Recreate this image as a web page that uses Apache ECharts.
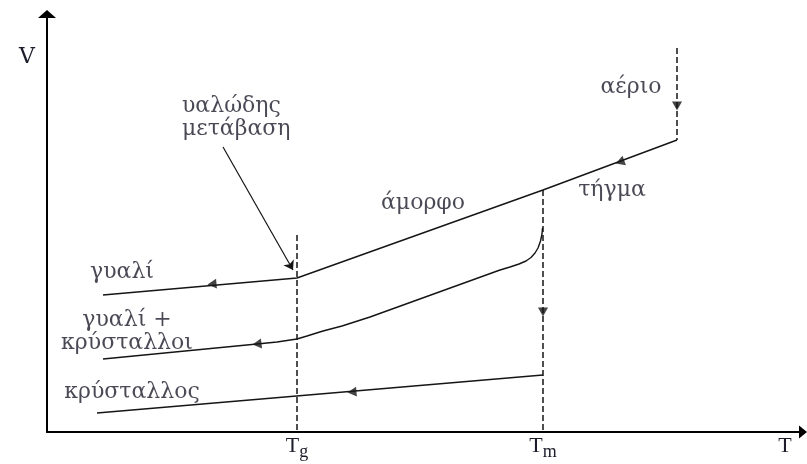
<!DOCTYPE html>
<html><head><meta charset="utf-8">
<script src="https://cdn.jsdelivr.net/npm/echarts@6/dist/echarts.min.js"></script>
<style>html,body{margin:0;padding:0;background:#fff}#c{width:807px;height:464px}</style>
</head><body><div id="c"></div>
<script>
// Volume–temperature diagram (arbitrary units): cooling paths from gas to glass / crystal
const gasPath = [[63, 38.4], [63, 29.2]];
const meltGlassPath = [[63, 29.2], [49.6, 24.2], [25, 15.4], [5.6, 13.7]];
const glassCrystalPath = [[49.55, 20.4], [49.5, 19.8], [49.35, 19.1], [49.1, 18.4], [48.8, 17.9], [48.4, 17.45],
  [47.9, 17.1], [47.2, 16.8], [46.3, 16.5], [45.3, 16.2], [32.3, 11.5], [29.5, 10.6], [27.6, 10.1], [26, 9.6],
  [25, 9.3], [23, 9.0], [21, 8.8], [5.6, 7.3]];
const crystalPath = [[49.6, 5.7], [5.0, 1.9]];
const tgLine = [[25, 19.7], [25, 0]];
const tmLine = [[49.6, 24.2], [49.6, 0]];
// direction markers: [T, V, rotation in degrees]
const arrowMarks = [[63, 32.6, 180], [57.3, 27.0, 110], [16.5, 14.8, 95], [21, 8.8, 97], [49.6, 12, 180], [30.5, 4.0, 95]];
const pointerLine = [[17.6, 28.5], [24.6, 16.2]];

const xTickValues = [25, 49.6, 73.8];
const xTickLabels = ['{t|T}{s|g}', '{t|T}{s|m}', '{t|T}'];
const yTickValues = [37.5];
const yTickLabels = ['V'];

const noteTexts = ['υαλώδης\nμετάβαση', 'γυαλί', 'γυαλί +\nκρύσταλλοι', 'κρύσταλλος', 'αέριο', 'τήγμα', 'άμορφο'];
const noteAnchors = [[13.5, 31.45], [7.5, 16.0], [8.0, 10.0], [8.5, 4.0], [58.4, 34.5], [56.5, 24.2], [37.6, 22.9]];
const noteSides = ['right', 'inside', 'inside', 'inside', 'inside', 'inside', 'inside'];

const INK = '#151515';
const TEXT = '#1c1c2a';
const FONT = '"Liberation Serif", "DejaVu Serif", serif';
const GREEK_FONT = '"DejaVu Serif", serif';

const solid = { color: INK, width: 1.4 };
const dashed = { color: INK, width: 1.5, type: [6, 3] };

function pathSeries(data, style) {
  return { type: 'line', data: data, symbol: 'none', smooth: false, lineStyle: style, silent: true, z: 3 };
}

const chart = echarts.init(document.getElementById('c'), null, { renderer: 'canvas' });
chart.setOption({
  animation: false,
  backgroundColor: '#fff',
  grid: { left: 47, right: 4, top: 14, bottom: 32, containLabel: false },
  xAxis: {
    type: 'value', min: 0, max: 75.6,
    axisLine: { show: true, symbol: ['none', 'triangle'], symbolSize: [13, 8], lineStyle: { color: '#000', width: 2 } },
    axisTick: { show: false },
    splitLine: { show: false },
    axisLabel: {
      customValues: xTickValues,
      margin: 3,
      formatter: function (v) { return xTickLabels[xTickValues.indexOf(v)]; },
      rich: {
        t: { fontFamily: FONT, fontSize: 22, color: TEXT, lineHeight: 22, verticalAlign: 'top' },
        s: { fontFamily: FONT, fontSize: 18, color: TEXT, lineHeight: 18, padding: [8, 0, 0, 0], verticalAlign: 'top' }
      }
    }
  },
  yAxis: {
    type: 'value', min: 0, max: 41.8,
    axisLine: { show: true, symbol: ['none', 'triangle'], symbolSize: [18, 8], lineStyle: { color: '#000', width: 2 } },
    axisTick: { show: false },
    splitLine: { show: false },
    axisLabel: {
      customValues: yTickValues,
      margin: 12,
      fontFamily: GREEK_FONT, fontSize: 22, color: TEXT,
      formatter: function (v) { return yTickLabels[yTickValues.indexOf(v)]; }
    }
  },
  series: [
    pathSeries(gasPath, dashed),
    pathSeries(meltGlassPath, solid),
    pathSeries(glassCrystalPath, solid),
    pathSeries(crystalPath, solid),
    pathSeries(tgLine, dashed),
    pathSeries(tmLine, dashed),
    {
      type: 'lines', coordinateSystem: 'cartesian2d', silent: true, z: 4,
      symbol: ['none', 'arrow'], symbolSize: 9,
      lineStyle: { color: INK, width: 1.2, opacity: 1 },
      data: [{ coords: pointerLine }]
    },
    {
      type: 'scatter', silent: true, z: 5,
      symbol: 'triangle', symbolSize: [10, 9],
      itemStyle: { color: INK },
      data: arrowMarks.map(function (a) { return { value: [a[0], a[1]], symbolRotate: a[2] }; })
    },
    {
      type: 'scatter', silent: true, z: 6, symbolSize: 0,
      data: noteTexts.map(function (txt, i) {
        return {
          value: noteAnchors[i],
          label: {
            show: true, formatter: txt, position: noteSides[i], distance: 0,
            align: noteSides[i] === 'right' ? 'left' : 'center',
            fontFamily: GREEK_FONT, fontSize: 22, lineHeight: 23, color: TEXT
          }
        };
      })
    }
  ]
});
</script></body></html>
